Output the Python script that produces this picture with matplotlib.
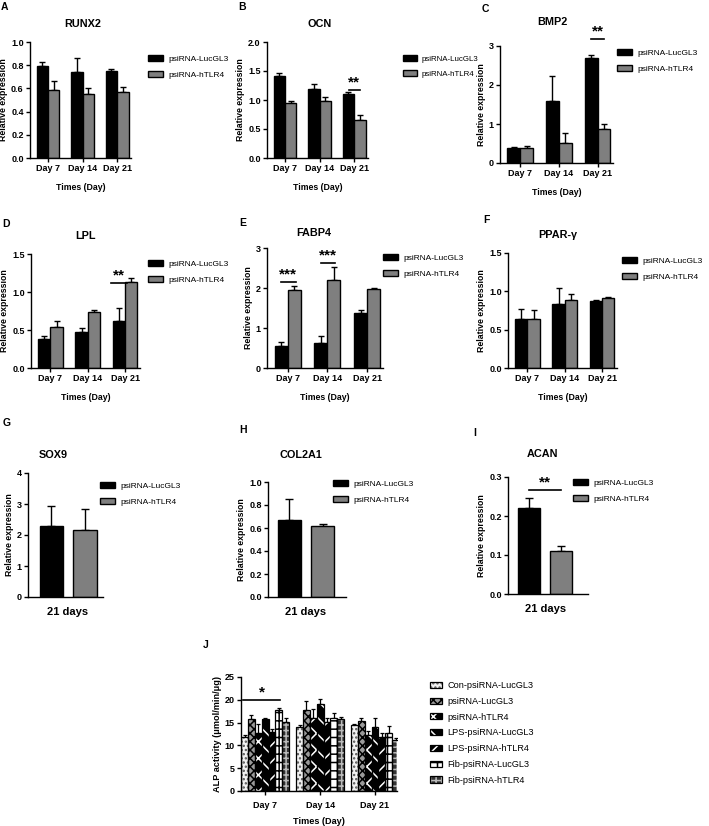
import numpy as np
import matplotlib
matplotlib.use("Agg")
import matplotlib.pyplot as plt
from matplotlib.legend_handler import HandlerTuple

plt.rcParams["font.family"] = ["Liberation Sans", "DejaVu Sans"]
plt.rcParams["hatch.linewidth"] = 1.1

W, H = 709, 826

# ---------------------------------------------------------------- data
days = ["Day 7", "Day 14", "Day 21"]
groups = ["psiRNA-LucGL3", "psiRNA-hTLR4"]

runx2_luc, runx2_luc_err = [0.79, 0.74, 0.75], [0.035, 0.12, 0.02]
runx2_tlr, runx2_tlr_err = [0.59, 0.55, 0.57], [0.07, 0.055, 0.045]
ocn_luc, ocn_luc_err = [1.41, 1.19, 1.11], [0.05, 0.08, 0.03]
ocn_tlr, ocn_tlr_err = [0.94, 0.98, 0.66], [0.05, 0.08, 0.09]
bmp2_luc, bmp2_luc_err = [0.38, 1.60, 2.70], [0.03, 0.63, 0.07]
bmp2_tlr, bmp2_tlr_err = [0.39, 0.50, 0.88], [0.05, 0.28, 0.13]
lpl_luc, lpl_luc_err = [0.38, 0.48, 0.62], [0.04, 0.045, 0.17]
lpl_tlr, lpl_tlr_err = [0.54, 0.74, 1.13], [0.08, 0.02, 0.05]
fabp4_luc, fabp4_luc_err = [0.56, 0.63, 1.38], [0.10, 0.18, 0.07]
fabp4_tlr, fabp4_tlr_err = [1.95, 2.20, 1.98], [0.09, 0.32, 0.03]
ppar_luc, ppar_luc_err = [0.64, 0.83, 0.87], [0.13, 0.21, 0.02]
ppar_tlr, ppar_tlr_err = [0.64, 0.89, 0.91], [0.12, 0.08, 0.02]

single_label = "21 days"
sox9, sox9_err = [2.30, 2.15], [0.62, 0.70]
col2a1, col2a1_err = [0.67, 0.62], [0.18, 0.015]
acan, acan_err = [0.22, 0.11], [0.025, 0.012]

alp_groups = ["Con-psiRNA-LucGL3", "psiRNA-LucGL3", "psiRNA-hTLR4",
              "LPS-psiRNA-LucGL3", "LPS-psiRNA-hTLR4",
              "Fib-psiRNA-LucGL3", "Fib-psiRNA-hTLR4"]
alp = [  # rows = groups, cols = Day 7, 14, 21
    [11.8, 14.0, 14.4],
    [15.8, 17.8, 15.4],
    [12.8, 16.0, 12.3],
    [15.8, 19.0, 14.0],
    [13.0, 15.2, 11.8],
    [17.7, 16.0, 12.8],
    [15.1, 15.7, 11.2],
]
alp_err = [
    [0.4, 0.4, 0.3],
    [0.8, 1.9, 0.7],
    [1.8, 2.0, 0.8],
    [0.3, 1.2, 2.1],
    [0.5, 0.9, 1.0],
    [0.4, 1.1, 1.4],
    [0.9, 0.5, 0.4],
]

# significance bars: (x0, x1, y_line, stars)
sig_ocn = [(1.84, 2.16, 1.17, "**")]
sig_bmp2 = [(1.84, 2.16, 3.18, "**")]
sig_lpl = [(1.62, 2.05, 1.12, "**")]
sig_fabp4 = [(-0.16, 0.20, 2.15, "***"), (0.84, 1.20, 2.62, "***")]
sig_acan = [(0.0, 1.0, 0.267, "**")]
sig_alp = [(-0.40, 0.27, 20.0, "*")]

GRAY = "#7f7f7f"


def fx(x):
    return x / W


def fy(y):
    return 1 - y / H


def add_axes(x0, y0, x1, y1):
    ax = fig.add_axes([fx(x0), fy(y1), (x1 - x0) / W, (y1 - y0) / H])
    for s in ("top", "right"):
        ax.spines[s].set_visible(False)
    for s in ("left", "bottom"):
        ax.spines[s].set_linewidth(1.0)
    ax.tick_params(width=1.0, length=3, labelsize=6.5, pad=1.5)
    return ax


def bold_ticks(ax):
    for lab in ax.get_xticklabels() + ax.get_yticklabels():
        lab.set_fontweight("bold")


def draw_sig(ax, sigs, size=11):
    for x0, x1, yl, st in sigs:
        ax.plot([x0, x1], [yl, yl], color="black", lw=1.2, clip_on=False)
        ax.annotate(st, xy=((x0 + x1) / 2, yl), xytext=(0, 2.5),
                    textcoords="offset points", ha="center", va="baseline",
                    fontsize=size, fontweight="bold", annotation_clip=False)


def legend(ax, handles, labels, x, y, hl=1.8, sp=0.98, fs=6, hh=0.7, **kw):
    ax.legend(handles, labels, loc="upper left",
              bbox_to_anchor=(fx(x), fy(y)), bbox_transform=fig.transFigure,
              frameon=False, fontsize=fs, handlelength=hl, handleheight=hh,
              handletextpad=0.6, labelspacing=sp, borderpad=0, borderaxespad=0, **kw)


def grouped(box, title, tpos, letter, lpos, luc, luc_e, tlr, tlr_e,
            ylim, yticks, fmt, legpos, sigs=None, legfs=6):
    ax = add_axes(*box)
    x = np.arange(len(days))
    w = 0.33
    b1 = ax.bar(x - w / 2, luc, w, color="black", edgecolor="black", lw=1.0, zorder=2)
    b2 = ax.bar(x + w / 2, tlr, w, color=GRAY, edgecolor="black", lw=1.0, zorder=2)
    ax.errorbar(x - w / 2, luc, yerr=[np.zeros(3), luc_e], fmt="none",
                ecolor="black", elinewidth=1.0, capsize=2, capthick=1.0, zorder=1)
    ax.errorbar(x + w / 2, tlr, yerr=[np.zeros(3), tlr_e], fmt="none",
                ecolor="black", elinewidth=1.0, capsize=2, capthick=1.0, zorder=1)
    ax.set_xlim(-0.52, 2.4)
    ax.set_ylim(*ylim)
    ax.set_yticks(yticks)
    ax.set_yticklabels([fmt.format(v) for v in yticks])
    ax.set_xticks(x)
    ax.set_xticklabels(days)
    bold_ticks(ax)
    ax.set_ylabel("Relative expression", fontsize=6.3, fontweight="bold", labelpad=2)
    ax.set_xlabel("Times (Day)", fontsize=6.3, fontweight="bold", labelpad=7)
    if sigs:
        draw_sig(ax, sigs)
    fig.text(fx(tpos[0]), fy(tpos[1]), title, ha="center", va="baseline",
             fontsize=7.8, fontweight="bold")
    fig.text(fx(lpos[0]), fy(lpos[1]), letter, ha="left", va="baseline",
             fontsize=7.5, fontweight="bold")
    legend(ax, [b1, b2], groups, *legpos, fs=legfs)
    return ax


def single(box, title, tpos, letter, lpos, vals, errs, ylim, yticks, fmt,
           legpos, xlim, sigs=None):
    ax = add_axes(*box)
    x = np.arange(2)
    w = 0.68
    bars = ax.bar(x, vals, w, color=["black", GRAY], edgecolor="black", lw=1.0, zorder=2)
    ax.errorbar(x, vals, yerr=[np.zeros(2), errs], fmt="none", ecolor="black",
                elinewidth=1.0, capsize=3, capthick=1.0, zorder=1)
    ax.set_xlim(*xlim)
    ax.set_ylim(*ylim)
    ax.set_yticks(yticks)
    ax.set_yticklabels([fmt.format(v) for v in yticks])
    ax.set_xticks([0.5])
    ax.set_xticklabels([single_label])
    ax.tick_params(axis="x", length=0, labelsize=8, pad=7)
    bold_ticks(ax)
    ax.set_ylabel("Relative expression", fontsize=6.3, fontweight="bold", labelpad=2)
    if sigs:
        draw_sig(ax, sigs)
    fig.text(fx(tpos[0]), fy(tpos[1]), title, ha="center", va="baseline",
             fontsize=7.8, fontweight="bold")
    fig.text(fx(lpos[0]), fy(lpos[1]), letter, ha="left", va="baseline",
             fontsize=7.5, fontweight="bold")
    legend(ax, [bars[0], bars[1]], groups, *legpos)
    return ax


fig = plt.figure(figsize=(W / 100, H / 100), dpi=100)

grouped((30, 42, 131, 158), "RUNX2", (83, 27), "A", (1, 10),
        runx2_luc, runx2_luc_err, runx2_tlr, runx2_tlr_err,
        (0, 1.0), [0, 0.2, 0.4, 0.6, 0.8, 1.0], "{:.1f}", (148, 55))
grouped((267, 42, 368, 158), "OCN", (320, 27), "B", (238, 10),
        ocn_luc, ocn_luc_err, ocn_tlr, ocn_tlr_err,
        (0, 2.0), [0, 0.5, 1.0, 1.5, 2.0], "{:.1f}", (403, 55), sig_ocn, legfs=5.7)
grouped((500, 46, 613, 163), "BMP2", (552, 25), "C", (482, 12),
        bmp2_luc, bmp2_luc_err, bmp2_tlr, bmp2_tlr_err,
        (0, 3), [0, 1, 2, 3], "{:.0f}", (617, 49), sig_bmp2)
grouped((31, 254, 140, 368), "LPL", (85, 239), "D", (2, 227),
        lpl_luc, lpl_luc_err, lpl_tlr, lpl_tlr_err,
        (0, 1.5), [0, 0.5, 1.0, 1.5], "{:.1f}", (148, 260), sig_lpl)
grouped((267, 248, 383, 368), "FABP4", (314, 236), "E", (239, 226),
        fabp4_luc, fabp4_luc_err, fabp4_tlr, fabp4_tlr_err,
        (0, 3), [0, 1, 2, 3], "{:.0f}", (383, 254), sig_fabp4)
grouped((508, 253, 617, 368), "PPAR-γ", (558, 238), "F", (483, 223),
        ppar_luc, ppar_luc_err, ppar_tlr, ppar_tlr_err,
        (0, 1.5), [0, 0.5, 1.0, 1.5], "{:.1f}", (622, 257))

single((28, 473, 103, 597), "SOX9", (53, 458), "G", (3, 426),
       sox9, sox9_err, (0, 4), [0, 1, 2, 3, 4], "{:.0f}", (100, 482), (-0.68, 1.53))
single((268, 482, 346, 597), "COL2A1", (301, 458), "H", (239, 433),
       col2a1, col2a1_err, (0, 1.0), [0, 0.2, 0.4, 0.6, 0.8, 1.0], "{:.1f}",
       (333, 480), (-0.65, 1.71))
single((508, 477, 588, 594), "ACAN", (542, 457), "I", (473, 436),
       acan, acan_err, (0, 0.3), [0, 0.1, 0.2, 0.3], "{:.1f}",
       (573, 479), (-0.66, 1.84), sig_acan)

# ---------------------------------------------------------------- panel J
axj = add_axes(241, 677, 397, 791)
faces = ["#f2f2f2", "#9a9a9a", "black", "black", "black", "white", "#333333"]
hatch_cols = ["#555555", "black", "white", "white", "white", "black", "#bbbbbb"]
hatches = ["....", "xxxx", "xx", "\\\\", "//", "++", "+++"]
x = np.arange(len(days))
bw = 0.125
handles = []
for i, name in enumerate(alp_groups):
    pos = x + (i - 3) * bw
    fill = axj.bar(pos, alp[i], bw, color=faces[i], edgecolor=hatch_cols[i], lw=0,
                   hatch=hatches[i], zorder=2)
    edge = axj.bar(pos, alp[i], bw, fill=False, edgecolor="black", lw=0.9, zorder=3)
    axj.errorbar(pos, alp[i], yerr=[np.zeros(3), alp_err[i]], fmt="none",
                 ecolor="black", elinewidth=0.9, capsize=1.3, capthick=0.9, zorder=1)
    handles.append((fill[0], edge[0]))
axj.set_xlim(-0.44, 2.4)
axj.set_ylim(0, 25)
axj.set_yticks([0, 5, 10, 15, 20, 25])
axj.set_xticks(x)
axj.set_xticklabels(days)
axj.tick_params(axis="x", pad=4)
bold_ticks(axj)
axj.set_ylabel("ALP activity (μmol/min/μg)", fontsize=6.6, fontweight="bold", labelpad=2)
axj.set_xlabel("Times (Day)", fontsize=6.6, fontweight="bold", labelpad=5)
draw_sig(axj, sig_alp)
fig.text(fx(203), fy(648), "J", ha="left", va="baseline", fontsize=7.5, fontweight="bold")
legend(axj, handles, alp_groups, 430, 681, hl=1.3, sp=0.74, fs=6.6, hh=0.65,
       handler_map={tuple: HandlerTuple(ndivide=1, pad=0)})

fig.savefig("out.png", dpi=100)
